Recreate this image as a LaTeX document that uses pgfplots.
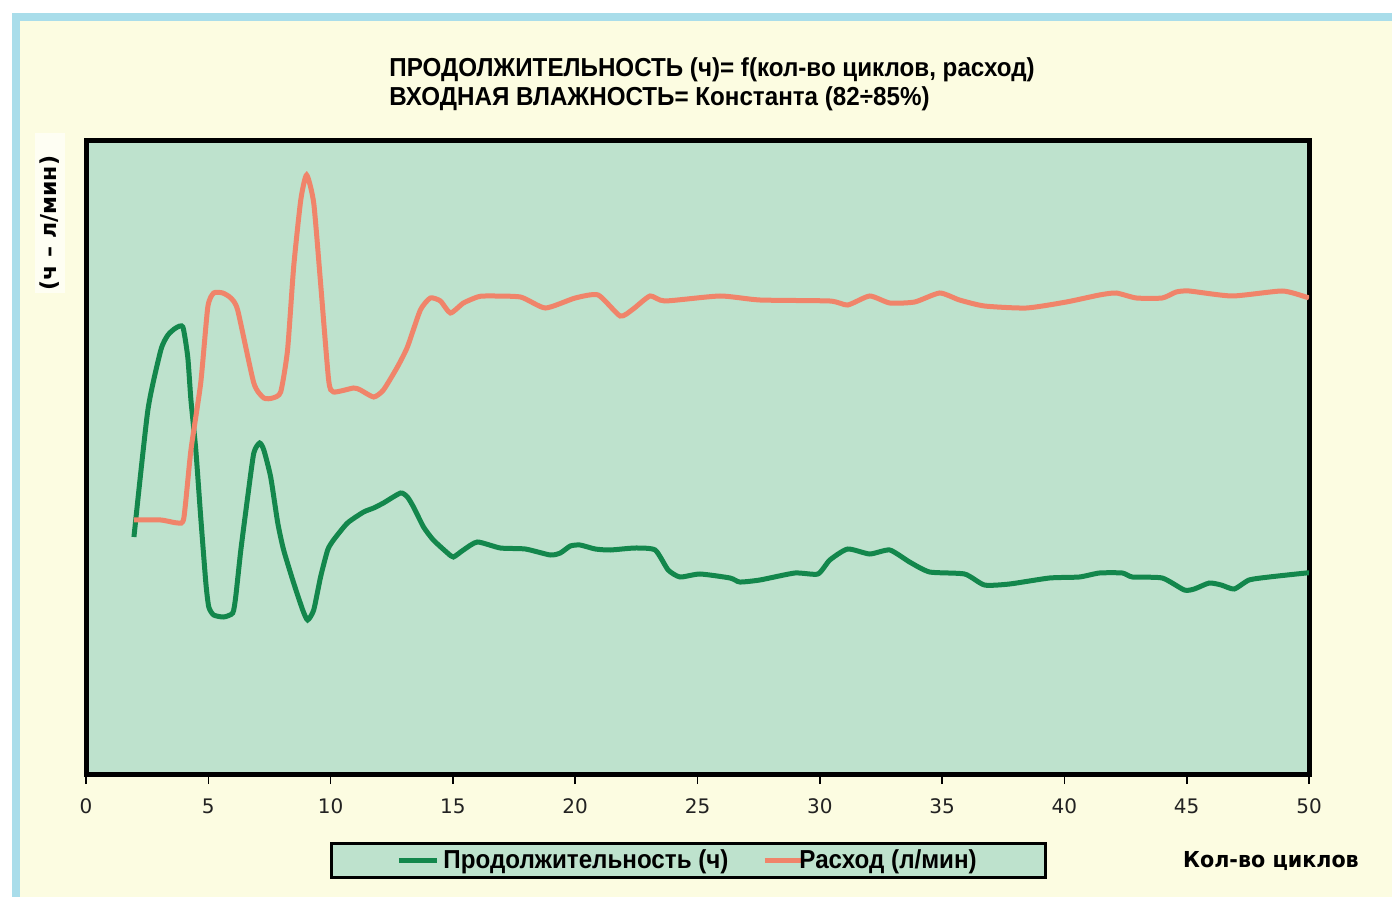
\documentclass[border=0pt]{standalone}
\usepackage{pgfplots}
\pgfplotsset{compat=1.18}
\usepackage{fontspec}
\setmainfont{Liberation Sans}
\newfontfamily\narrow{Liberation Sans}[FakeStretch=0.93]
\newfontfamily\dejavu{DejaVu Sans}
\newfontfamily\dejavucond{DejaVu Sans}[FakeStretch=0.94]
\definecolor{plotbg}{HTML}{BEE2CD}
\definecolor{outerbg}{HTML}{FCFCE1}
\definecolor{bluebd}{HTML}{A9DDEA}
\definecolor{cgreen}{HTML}{13874C}
\definecolor{corange}{HTML}{F0846A}
\definecolor{ticktxt}{HTML}{222222}
\begin{document}
\begin{tikzpicture}[x=0.5pt,y=-0.5pt]
% backgrounds (pixel coordinates of a 1392x897 frame)
\fill[white] (0,0) rectangle (1392,897);
\fill[bluebd] (12,13) rectangle (1392,897);
\fill[outerbg] (20,21) rectangle (1392,897);
\fill[white!60!outerbg] (35,133) rectangle (65,293);
% titles
\node[anchor=base west, font=\narrow\bfseries\fontsize{13}{15}\selectfont, inner sep=0pt] at (389,77) {ПРОДОЛЖИТЕЛЬНОСТЬ (ч)= f(кол-во циклов, расход)};
\node[anchor=base west, font=\narrow\bfseries\fontsize{13}{15}\selectfont, inner sep=0pt] at (389,106) {ВХОДНАЯ ВЛАЖНОСТЬ= Константа (82÷85\%)};
\node[rotate=90, font=\dejavu\bfseries\fontsize{11}{13}\selectfont, inner sep=0pt] at (50,223) {(ч – л/мин)};
\node[anchor=center, font=\dejavucond\bfseries\fontsize{11}{13}\selectfont, inner sep=0pt] at (1271,861) {Кол-во циклов};
\begin{axis}[
  at={(43pt,-387pt)}, anchor=south west,
  scale only axis, width=611.5pt, height=316.5pt,
  xmin=0, xmax=50, ymin=0.2, ymax=63.5,
  axis background/.style={fill=plotbg},
  axis line style={line width=2.5pt, black},
  xtick={0,5,...,50}, ytick=\empty, xtick pos=bottom,
  tick align=outside, major tick length=5pt,
  xtick style={line width=0.8pt, black},
  x tick label style={font=\dejavu\fontsize{10}{12}\selectfont, text=ticktxt, yshift=-4pt},
  /pgf/number format/assume math mode=true,
  clip=true,
  legend columns=2,
  legend style={at={(0.4927,-0.1368)}, anchor=center, draw=black, line width=1.5pt,
    fill=plotbg, font=\narrow\bfseries\fontsize{13}{15}\selectfont,
    inner xsep=32.5pt, inner ysep=1pt,
    /tikz/every even column/.append style={column sep=15pt}},
  legend image code/.code={\draw[line width=2.5pt] (0pt,0pt) -- (19pt,0pt);},
]
\addplot[cgreen, line width=2.5pt, smooth, tension=0.35] coordinates {
(1.96,23.9)(2.53,36.6)(3.06,42.6)(3.35,44.1)(3.67,44.8)(3.96,44.9)(4.16,41.9)
(4.29,37.6)(4.49,32.6)(4.69,25.9)(4.90,19.3)(5.02,16.9)(5.22,16.1)(5.63,15.9)
(6.00,16.3)(6.12,17.9)(6.33,22.6)(6.61,27.9)(6.86,32.3)(7.10,33.3)(7.27,32.6)
(7.55,29.9)(7.84,25.3)(8.08,22.6)(8.49,19.3)(8.86,16.6)(9.06,15.6)(9.31,16.6)
(9.59,19.9)(9.88,22.6)(10.12,23.6)(10.69,25.3)(11.35,26.4)(11.76,26.8)(12.16,27.3)
(12.86,28.3)(13.14,27.9)(13.39,26.9)(13.80,24.9)(14.20,23.6)(14.78,22.3)(15.02,21.9)
(15.43,22.6)(16.00,23.4)(16.94,22.8)(17.96,22.7)(18.98,22.1)(19.39,22.3)(19.80,23.0)
(20.20,23.1)(20.82,22.7)(21.43,22.6)(22.45,22.8)(23.27,22.6)(23.80,20.6)(24.29,19.9)
(25.10,20.2)(26.33,19.8)(26.73,19.4)(27.55,19.6)(28.98,20.3)(29.92,20.2)(30.41,21.6)
(31.14,22.7)(32.04,22.2)(32.86,22.6)(33.67,21.4)(34.49,20.4)(35.92,20.2)(36.73,19.1)
(37.76,19.2)(39.39,19.8)(40.61,19.9)(41.43,20.3)(42.37,20.3)(42.78,19.9)(44.00,19.8)
(44.90,18.6)(45.31,18.7)(45.92,19.3)(46.41,19.1)(46.94,18.7)(47.55,19.6)(48.37,19.9)
(49.88,20.3)(50.00,20.3)
};
\addlegendentry{Продолжительность (ч)}
\addplot[corange, line width=2.5pt, smooth, tension=0.35,
  legend image code/.code={\draw[line width=2.5pt] (0pt,0pt) -- (14pt,0pt);
    \draw[overlay, line width=2.5pt] (13pt,0pt) -- (18pt,0pt);}] coordinates {
(1.96,25.6)(3.06,25.6)(3.76,25.3)(4.00,25.8)(4.29,32.6)(4.69,39.3)(4.98,46.9)
(5.22,48.3)(5.59,48.3)(5.92,47.8)(6.20,46.6)(6.86,39.3)(7.27,37.8)(7.63,37.8)
(7.96,38.4)(8.24,42.6)(8.49,50.9)(8.78,57.6)(9.02,60.1)(9.31,57.3)(9.59,49.3)
(9.92,39.6)(10.12,38.4)(10.94,38.8)(11.22,38.6)(11.76,37.9)(12.16,38.6)(12.73,40.9)
(13.14,42.9)(13.67,46.6)(14.08,47.8)(14.49,47.5)(14.90,46.3)(15.43,47.3)(16.00,47.9)
(16.33,48.0)(17.76,47.9)(18.78,46.8)(20.00,47.8)(20.94,48.1)(21.84,46.0)(22.37,46.7)
(23.06,48.0)(23.67,47.5)(25.92,48.0)(27.55,47.6)(30.41,47.5)(31.14,47.1)(32.04,48.0)
(32.86,47.3)(33.88,47.4)(34.90,48.3)(35.71,47.6)(36.73,47.0)(38.45,46.8)(40.08,47.4)
(41.43,48.1)(42.12,48.3)(42.94,47.8)(44.00,47.8)(44.57,48.4)(45.10,48.5)(46.86,48.0)
(48.90,48.5)(49.88,47.9)(50.00,47.8)
};
\addlegendentry{Расход (л/мин)}
\end{axis}
\end{tikzpicture}
\end{document}
